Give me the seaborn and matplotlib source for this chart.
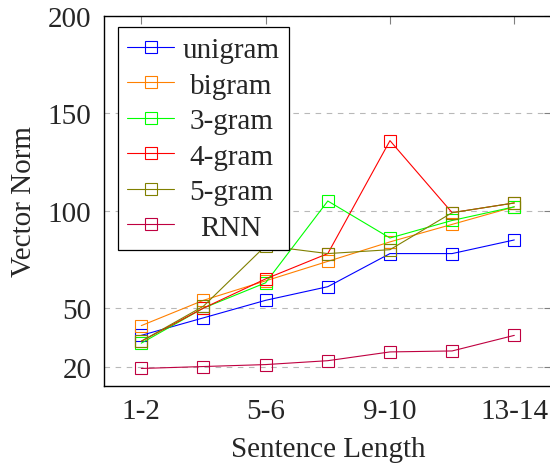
import numpy as np
import pandas as pd
import seaborn as sns
import matplotlib
matplotlib.use("Agg")
from matplotlib import pyplot as plt
from matplotlib.transforms import Affine2D

# categorias del eje x (longitud de frase)
longitudes = ["1-2", "3-4", "5-6", "7-8", "9-10", "11-12", "13-14"]
etiquetas_x = ["1-2", "5-6", "9-10", "13-14"]
ticks_y = [20, 50, 100, 150, 200]

# valores
unigram = [36, 45, 54, 61, 78, 78, 85]
bigram = [41, 54, 64, 74, 84, 93, 102]
trigram = [32, 50, 63, 105, 86, 95, 102]
cuatrigram = [33, 50, 65, 78, 136, 99, 104]
quintigram = [33, 51, 82, 78, 80, 99, 104]
rnn = [19, 20, 21, 23, 27.5, 28, 36]

modelos = ["unigram", "bigram", "3-gram", "4-gram", "5-gram", "RNN"]
colores = ["#0000ff", "#ff8000", "#00ff00", "#ff0000", "#808000", "#bf0040"]

series = [unigram, bigram, trigram, cuatrigram, quintigram, rnn]
filas = []
for nombre, valores in zip(modelos, series):
    for i, v in enumerate(valores):
        filas.append({"pos": i + 1, "longitud": longitudes[i], "norma": v, "modelo": nombre})
df = pd.DataFrame(filas)

sns.set_style("white")
plt.rcParams['font.family'] = ['Liberation Serif', 'DejaVu Serif']
plt.rcParams['font.size'] = 21

fig = plt.figure(figsize=(5.5, 4.64), dpi=100)
ax = fig.add_axes([104 / 550, 77 / 464, 447.6 / 550, 370 / 464])

sns.lineplot(data=df, x="pos", y="norma", hue="modelo", hue_order=modelos,
             palette=colores, marker="s", markersize=8, linewidth=0.8,
             dashes=False, legend=False, ax=ax)

for linea in ax.lines:
    linea.set_markerfacecolor("none")
    linea.set_markeredgecolor(linea.get_color())
    linea.set_markeredgewidth(0.8)

ax.set_xlim(0.4, 7.6)
ax.set_ylim(10, 200)
ax.set_xticks([1, 3, 5, 7])
ax.set_xticklabels(etiquetas_x)
ax.set_yticks(ticks_y)
ax.set_yticklabels([str(t) for t in ticks_y])
ax.tick_params(direction="in", length=6, width=0.8, color="gray",
               top=True, right=True, labelsize=21)
ax.tick_params(axis="y", pad=9)
ax.tick_params(axis="x", pad=9)
ax.yaxis.grid(True, linestyle=(0, (5, 5)), color="#b8b8b8", linewidth=0.8)
ax.xaxis.grid(False)
ax.set_axisbelow(True)
for s in ax.spines.values():
    s.set_color("black")
    s.set_linewidth(1.0)

ax.set_xlabel("Sentence Length", fontsize=21, labelpad=8)
ax.set_ylabel("Vector Norm", fontsize=21, labelpad=8)

leg = ax.legend(ax.lines[:len(modelos)], modelos, loc="upper left",
                bbox_to_anchor=(0.031, 0.969), borderaxespad=0, fontsize=21,
                fancybox=False, framealpha=1, edgecolor="black",
                handlelength=1.6, labelspacing=0.31, borderpad=0.32,
                handletextpad=0.3)
leg.get_frame().set_linewidth(0.9)

# centrar los textos de la leyenda como en pgfplots
fig.canvas.draw()
textos = leg.get_texts()
anchos = [t.get_window_extent().width for t in textos]
maximo = max(anchos)
for t, w in zip(textos, anchos):
    t.set_transform(t.get_transform() + Affine2D().translate((maximo - w) / 2, 0))

fig.savefig("out.png", dpi=100)
